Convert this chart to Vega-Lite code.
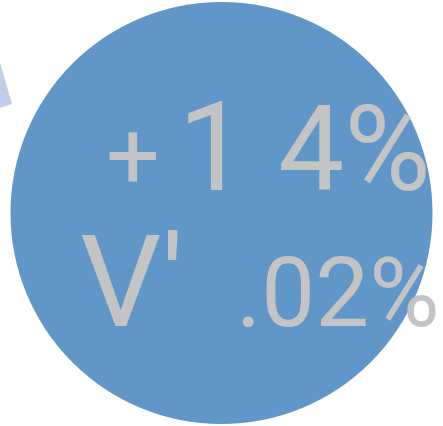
{
  "$schema": "https://vega.github.io/schema/vega-lite/v6.json",
  "width": 443,
  "height": 426,
  "autosize": {"type": "none"},
  "padding": 0,
  "background": "white",
  "view": {"stroke": null},
  "layer": [
    {
      "data": {"values": [{"part": "wedge", "start": 252, "end": 344}]},
      "mark": {"type": "arc", "radius": 60, "color": "#C0D0E4", "x": 12, "y": 104},
      "encoding": {
        "theta": {"field": "start", "type": "quantitative", "scale": {"domain": [0, 360]}},
        "theta2": {"field": "end"}
      }
    },
    {
      "data": {"values": [{"part": "circle", "start": 0, "end": 360}]},
      "mark": {"type": "arc", "radius": 211, "color": "#6096C8"},
      "encoding": {
        "theta": {"field": "start", "type": "quantitative"},
        "theta2": {"field": "end"}
      }
    },
    {
      "data": {"values": [{"label": "+"}]},
      "mark": {"type": "text", "align": "left", "baseline": "alphabetic", "dx": -115.5, "dy": -25, "font": "Roboto, sans-serif", "fontSize": 95, "color": "#C4C4C4"},
      "encoding": {"text": {"field": "label"}}
    },
    {
      "data": {"values": [{"label": "1"}]},
      "mark": {"type": "text", "align": "left", "baseline": "alphabetic", "dx": -43.5, "dy": -23, "font": "Roboto, sans-serif", "fontSize": 124, "color": "#C4C4C4"},
      "encoding": {"text": {"field": "label"}}
    },
    {
      "data": {"values": [{"label": "4%"}]},
      "mark": {"type": "text", "align": "left", "baseline": "alphabetic", "dx": 56.5, "dy": -23, "font": "Roboto, sans-serif", "fontSize": 118, "color": "#C4C4C4"},
      "encoding": {"text": {"field": "label"}}
    },
    {
      "data": {"values": [{"label": "V'"}]},
      "mark": {"type": "text", "align": "left", "baseline": "alphabetic", "dx": -141.5, "dy": 113, "font": "Roboto, sans-serif", "fontSize": 128, "color": "#C4C4C4"},
      "encoding": {"text": {"field": "label"}}
    },
    {
      "data": {"values": [{"label": ".02%"}]},
      "mark": {"type": "text", "align": "left", "baseline": "alphabetic", "dx": 14.5, "dy": 113, "font": "Roboto, sans-serif", "fontSize": 96, "color": "#C4C4C4"},
      "encoding": {"text": {"field": "label"}}
    }
  ]
}
